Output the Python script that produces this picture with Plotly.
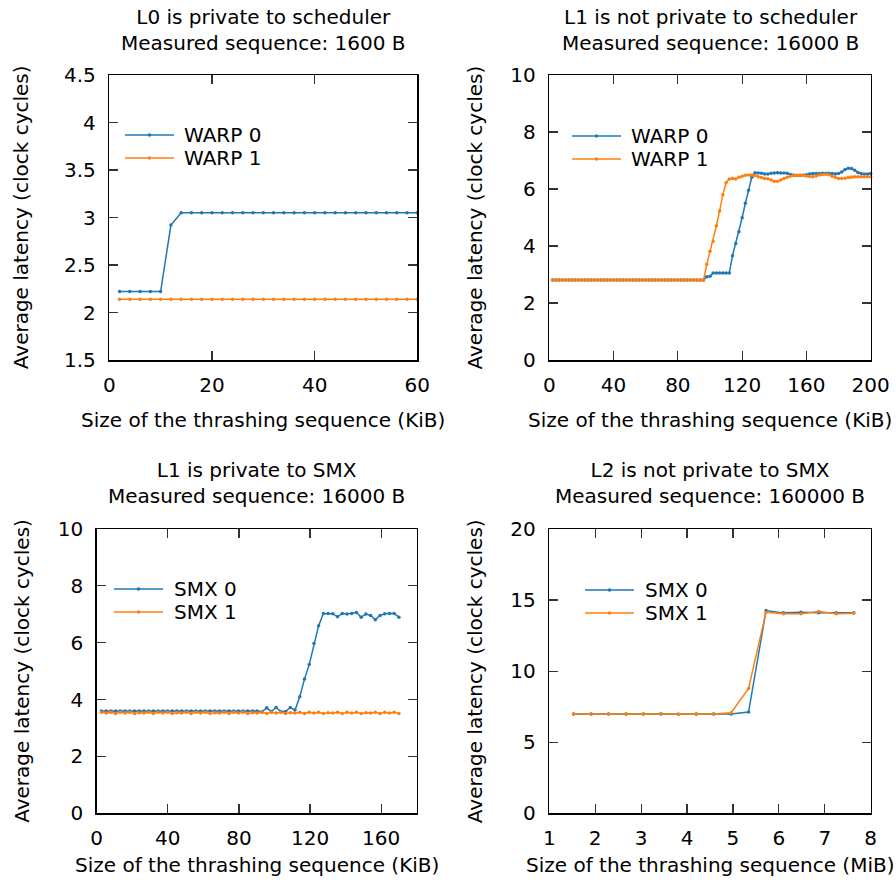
import plotly.graph_objects as go

W, H = 896, 887
FONT = "DejaVu Sans"
BLUE = "#1f77b4"
ORANGE = "#ff7f0e"

# ---------------- data ----------------
# Panel 1: L0 private to scheduler (KiB)
p1_x = [2, 4, 6, 8, 10, 12, 14, 16, 18, 20, 22, 24, 26, 28, 30,
        32, 34, 36, 38, 40, 42, 44, 46, 48, 50, 52, 54, 56, 58, 60]
p1_warp0 = [2.22, 2.22, 2.22, 2.22, 2.22, 2.92, 3.05, 3.05, 3.05, 3.05,
            3.05, 3.05, 3.05, 3.05, 3.05, 3.05, 3.05, 3.05, 3.05, 3.05,
            3.05, 3.05, 3.05, 3.05, 3.05, 3.05, 3.05, 3.05, 3.05, 3.05]
p1_warp1 = [2.14, 2.14, 2.14, 2.14, 2.14, 2.14, 2.14, 2.14, 2.14, 2.14,
            2.14, 2.14, 2.14, 2.14, 2.14, 2.14, 2.14, 2.14, 2.14, 2.14,
            2.14, 2.14, 2.14, 2.14, 2.14, 2.14, 2.14, 2.14, 2.14, 2.14]

# Panel 2: L1 not private to scheduler (KiB)
p2_x = list(range(2, 201, 2))
p2_warp0 = [2.81, 2.81, 2.81, 2.81, 2.81, 2.81, 2.81, 2.81, 2.81, 2.81,
            2.81, 2.81, 2.81, 2.81, 2.81, 2.81, 2.81, 2.81, 2.81, 2.81,
            2.81, 2.81, 2.81, 2.81, 2.81, 2.81, 2.81, 2.81, 2.81, 2.81,
            2.81, 2.81, 2.81, 2.81, 2.81, 2.81, 2.81, 2.81, 2.81, 2.81,
            2.81, 2.81, 2.81, 2.81, 2.81, 2.81, 2.81, 2.81, 2.92, 2.94,
            3.05, 3.05, 3.05, 3.05, 3.05, 3.05, 3.66, 4.09, 4.50, 4.99,
            5.50, 5.96, 6.41, 6.57, 6.56, 6.55, 6.53, 6.53, 6.55, 6.56,
            6.57, 6.56, 6.56, 6.55, 6.51, 6.49, 6.47, 6.47, 6.48, 6.50,
            6.53, 6.54, 6.54, 6.54, 6.55, 6.55, 6.55, 6.54, 6.53, 6.54,
            6.60, 6.68, 6.73, 6.72, 6.66, 6.58, 6.54, 6.53, 6.53, 6.54]
p2_warp1 = [2.81, 2.81, 2.81, 2.81, 2.81, 2.81, 2.81, 2.81, 2.81, 2.81,
            2.81, 2.81, 2.81, 2.81, 2.81, 2.81, 2.81, 2.81, 2.81, 2.81,
            2.81, 2.81, 2.81, 2.81, 2.81, 2.81, 2.81, 2.81, 2.81, 2.81,
            2.81, 2.81, 2.81, 2.81, 2.81, 2.81, 2.81, 2.81, 2.81, 2.81,
            2.81, 2.81, 2.81, 2.81, 2.81, 2.81, 2.81, 2.81, 3.36, 3.82,
            4.17, 4.71, 5.23, 5.80, 6.22, 6.35, 6.37, 6.35, 6.41, 6.45,
            6.48, 6.49, 6.49, 6.47, 6.43, 6.40, 6.37, 6.36, 6.32, 6.27,
            6.27, 6.32, 6.37, 6.41, 6.45, 6.47, 6.48, 6.49, 6.48, 6.46,
            6.44, 6.43, 6.46, 6.49, 6.51, 6.52, 6.50, 6.45, 6.40, 6.37,
            6.37, 6.38, 6.40, 6.42, 6.43, 6.43, 6.43, 6.43, 6.43, 6.43]

# Panel 3: L1 private to SMX (KiB)
p3_x = [2.66, 5.31, 7.97, 10.63, 13.28, 15.94, 18.59, 21.25, 23.91, 26.56,
        29.22, 31.88, 34.53, 37.19, 39.84, 42.50, 45.16, 47.81, 50.47, 53.13,
        55.78, 58.44, 61.09, 63.75, 66.41, 69.06, 71.72, 74.38, 77.03, 79.69,
        82.34, 85.00, 87.66, 90.31, 92.97, 95.63, 98.28, 100.94, 103.59, 106.25,
        108.91, 111.56, 114.22, 116.88, 119.53, 122.19, 124.84, 127.50, 130.16, 132.81,
        135.47, 138.13, 140.78, 143.44, 146.09, 148.75, 151.41, 154.06, 156.72, 159.38,
        162.03, 164.69, 167.34, 170.00]
p3_smx0 = [3.60, 3.60, 3.60, 3.60, 3.60, 3.60, 3.60, 3.60, 3.60, 3.60,
           3.60, 3.60, 3.60, 3.60, 3.60, 3.60, 3.60, 3.60, 3.60, 3.60,
           3.60, 3.60, 3.60, 3.60, 3.60, 3.60, 3.60, 3.60, 3.60, 3.60,
           3.60, 3.60, 3.60, 3.60, 3.57, 3.71, 3.58, 3.72, 3.58, 3.58,
           3.72, 3.63, 4.10, 4.72, 5.23, 5.97, 6.60, 7.03, 7.03, 7.02,
           6.91, 7.03, 7.01, 7.03, 7.06, 6.90, 7.01, 6.96, 6.81, 6.96,
           7.02, 7.03, 7.03, 6.90]
p3_smx1 = [3.55, 3.53, 3.55, 3.51, 3.55, 3.53, 3.55, 3.51, 3.54, 3.53,
           3.55, 3.51, 3.55, 3.53, 3.55, 3.51, 3.54, 3.53, 3.55, 3.51,
           3.55, 3.53, 3.55, 3.51, 3.54, 3.53, 3.55, 3.51, 3.55, 3.53,
           3.55, 3.51, 3.54, 3.53, 3.55, 3.51, 3.55, 3.53, 3.55, 3.51,
           3.54, 3.53, 3.55, 3.51, 3.55, 3.53, 3.55, 3.51, 3.54, 3.53,
           3.55, 3.51, 3.55, 3.53, 3.55, 3.51, 3.54, 3.53, 3.55, 3.51,
           3.55, 3.53, 3.55, 3.51]

# Panel 4: L2 not private to SMX (MiB)
p4_x = [1.53, 1.91, 2.29, 2.67, 3.05, 3.43, 3.81, 4.20, 4.58, 4.96,
        5.34, 5.72, 6.10, 6.48, 6.87, 7.25, 7.63]
p4_smx0 = [6.98, 6.98, 6.98, 6.98, 6.98, 6.99, 6.97, 6.98, 6.98, 6.98,
           7.12, 14.26, 14.10, 14.15, 14.10, 14.10, 14.10]
p4_smx1 = [6.98, 6.98, 6.98, 6.98, 6.98, 7.00, 6.97, 6.98, 6.98, 7.07,
           8.78, 14.15, 14.03, 14.03, 14.20, 14.03, 14.07]

titles = ["L0 is private to scheduler<br>Measured sequence: 1600 B",
          "L1 is not private to scheduler<br>Measured sequence: 16000 B",
          "L1 is private to SMX<br>Measured sequence: 16000 B",
          "L2 is not private to SMX<br>Measured sequence: 160000 B"]
xlabels = ["Size of the thrashing sequence (KiB)",
           "Size of the thrashing sequence (KiB)",
           "Size of the thrashing sequence (KiB)",
           "Size of the thrashing sequence (MiB)"]
ylabel = "Average latency (clock cycles)"
names = [["WARP 0", "WARP 1"], ["WARP 0", "WARP 1"],
         ["SMX 0", "SMX 1"], ["SMX 0", "SMX 1"]]

x_ranges = [[0, 60], [0, 200], [0, 180], [1, 8]]
x_ticks = [[0, 20, 40, 60], [0, 40, 80, 120, 160, 200],
           [0, 40, 80, 120, 160], [1, 2, 3, 4, 5, 6, 7, 8]]
y_ranges = [[1.5, 4.5], [0, 10], [0, 10], [0, 20]]
y_ticks = [[1.5, 2, 2.5, 3, 3.5, 4, 4.5], [0, 2, 4, 6, 8, 10],
           [0, 2, 4, 6, 8, 10], [0, 5, 10, 15, 20]]

xs = [p1_x, p2_x, p3_x, p4_x]
series = [[p1_warp0, p1_warp1], [p2_warp0, p2_warp1],
          [p3_smx0, p3_smx1], [p4_smx0, p4_smx1]]
colors = [BLUE, ORANGE]

# panel boxes in pixels: left, right, top, bottom
boxes = [(109.3, 417.3, 75, 360), (549.3, 870.7, 75, 360),
         (96.7, 416.7, 529, 813.3), (549.3, 870.7, 529, 813.3)]
legend_pos = [(125, 184, 135), (572, 631, 136), (114, 174, 589), (585, 645, 590)]
title_y = [30, 30, 483, 483]
xlabel_y = [420, 420, 865, 865]
ylabel_x = [21.7, 475, 21.7, 475]


def px(x):
    return x / W


def py(y):
    return 1 - y / H


def fmt(v):
    return ("%g" % v)


fig = go.Figure()
layout = dict(template="none", width=W, height=H,
              margin=dict(l=0, r=0, t=0, b=0, autoexpand=False),
              paper_bgcolor="white", plot_bgcolor="white",
              showlegend=False, font=dict(family=FONT, size=20, color="black"))
annotations = []
shapes = []

for i in range(4):
    sfx = "" if i == 0 else str(i + 1)
    l, r, t, b = boxes[i]
    axis_common = dict(showline=True, linecolor="black", linewidth=1.5,
                       mirror="ticks", ticks="inside", ticklen=9, tickwidth=1.2,
                       tickcolor="#333", showgrid=False, zeroline=False,
                       automargin=False,
                       tickfont=dict(family=FONT, size=20, color="black"),
                       fixedrange=True)
    layout["xaxis" + sfx] = dict(axis_common, domain=[px(l), px(r)],
                                 range=x_ranges[i], tickvals=x_ticks[i],
                                 ticktext=[fmt(v) for v in x_ticks[i]],
                                 anchor="y" + sfx, ticklabelstandoff=6)
    layout["yaxis" + sfx] = dict(axis_common, domain=[py(b), py(t)],
                                 range=y_ranges[i], tickvals=y_ticks[i],
                                 ticktext=[fmt(v) for v in y_ticks[i]],
                                 anchor="x" + sfx, ticklabelstandoff=8)
    for j in range(2):
        fig.add_trace(go.Scatter(
            x=xs[i], y=series[i][j], mode="lines+markers", name=names[i][j],
            line=dict(color=colors[j], width=1.5),
            marker=dict(color=colors[j], size=3.5, symbol="circle"),
            xaxis="x" + sfx, yaxis="y" + sfx, cliponaxis=False))
        # manual legend entry
        lx, tx, ly = legend_pos[i]
        yy = ly + 23 * j
        shapes.append(dict(type="line", xref="paper", yref="paper",
                           x0=px(lx), x1=px(lx + 49), y0=py(yy), y1=py(yy),
                           line=dict(color=colors[j], width=1.5)))
        shapes.append(dict(type="circle", xref="paper", yref="paper",
                           x0=px(lx + 24.5 - 1.8), x1=px(lx + 24.5 + 1.8),
                           y0=py(yy + 1.8), y1=py(yy - 1.8),
                           fillcolor=colors[j], line=dict(width=0)))
        annotations.append(dict(text=names[i][j], xref="paper", yref="paper",
                                x=px(tx - 2), y=py(yy), xanchor="left",
                                yanchor="middle", showarrow=False,
                                font=dict(size=20, family=FONT, color="black")))
    cx = (l + r) / 2
    annotations.append(dict(text=titles[i], xref="paper", yref="paper",
                            x=px(cx), y=py(title_y[i]), xanchor="center",
                            yanchor="middle", showarrow=False,
                            font=dict(size=20, family=FONT, color="black")))
    annotations.append(dict(text=xlabels[i], xref="paper", yref="paper",
                            x=px(cx), y=py(xlabel_y[i]), xanchor="center",
                            yanchor="middle", showarrow=False,
                            font=dict(size=20, family=FONT, color="black")))
    annotations.append(dict(text=ylabel, xref="paper", yref="paper",
                            x=px(ylabel_x[i]), y=py((t + b) / 2),
                            xanchor="center", yanchor="middle", textangle=-90,
                            showarrow=False,
                            font=dict(size=20, family=FONT, color="black")))

layout["annotations"] = annotations
layout["shapes"] = shapes
fig.update_layout(**layout)
fig.write_html("out.html",
               config={"displayModeBar": False, "staticPlot": True},
               post_script="document.body.style.margin='0';"
                           "document.body.style.padding='0';")
